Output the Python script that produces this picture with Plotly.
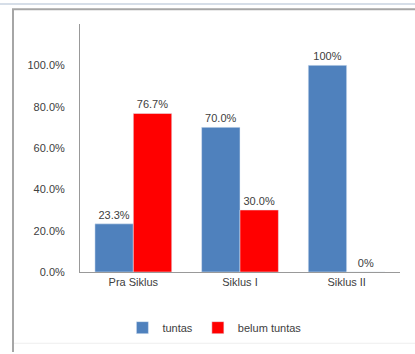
import plotly.graph_objects as go

categories = ["Pra Siklus", "Siklus I", "Siklus II"]
tuntas = [0.233, 0.70, 1.00]
belum_tuntas = [0.767, 0.30, 0.0]
tuntas_labels = ["23.3%", "70.0%", "100%"]
belum_labels = ["76.7%", "30.0%", "0%"]
tick_vals = [0, 0.2, 0.4, 0.6, 0.8, 1.0]
tick_text = ["0.0%", "20.0%", "40.0%", "60.0%", "80.0%", "100.0%"]

font_family = "Liberation Sans, Arial, sans-serif"
txt_color = "#404040"

fig = go.Figure()
fig.add_trace(go.Bar(
    x=categories, y=tuntas, name="tuntas", marker_color="#4F81BD",
    text=tuntas_labels, textposition="outside", cliponaxis=False,
    textfont=dict(size=11, color=txt_color, family=font_family),
))
fig.add_trace(go.Bar(
    x=categories, y=belum_tuntas, name="belum tuntas", marker_color="#FF0000",
    text=belum_labels, textposition="outside", cliponaxis=False,
    textfont=dict(size=11, color=txt_color, family=font_family),
))

# paper coordinate helpers (plot area: x 80..400 px, y 24..278 px)
def px_x(p):
    return (p - 80) / 320.0

def px_y(p):
    return (278 - p) / 254.0

fig.update_layout(
    width=415, height=354,
    margin=dict(l=80, r=15, t=24, b=76),
    paper_bgcolor="white", plot_bgcolor="white",
    barmode="group", bargap=0.28, bargroupgap=0,
    font=dict(family=font_family, size=11, color=txt_color),
    showlegend=True,
    legend=dict(orientation="h", x=0.42, xanchor="center", y=px_y(335), yanchor="middle",
                font=dict(size=11, color=txt_color), itemwidth=30,
                traceorder="normal"),
    xaxis=dict(showline=True, linecolor="#999999", linewidth=1, ticks="",
               tickfont=dict(size=11, color=txt_color), showgrid=False),
    yaxis=dict(range=[0, 1.2], tickvals=tick_vals, ticktext=tick_text,
               showline=True, linecolor="#999999", linewidth=1, ticks="",
               showgrid=False, zeroline=False, ticklabelstandoff=12,
               tickfont=dict(size=11, color=txt_color)),
    shapes=[
        # left frame edge
        dict(type="line", xref="paper", yref="paper",
             x0=px_x(13), x1=px_x(13), y0=px_y(9), y1=px_y(360),
             line=dict(color="#A6A6A6", width=2)),
        # top frame edge
        dict(type="line", xref="paper", yref="paper",
             x0=px_x(12), x1=px_x(420), y0=px_y(9), y1=px_y(9),
             line=dict(color="#A6A6A6", width=2)),
        # faint bottom edge
        dict(type="line", xref="paper", yref="paper",
             x0=px_x(14), x1=px_x(420), y0=px_y(351), y1=px_y(351),
             line=dict(color="#EEEEEE", width=1)),
        # light blue line at the very top
        dict(type="line", xref="paper", yref="paper",
             x0=px_x(0), x1=px_x(420), y0=px_y(3.5), y1=px_y(3.5),
             line=dict(color="#D6DEE8", width=2)),
    ],
)

fig.write_html("out.html")
